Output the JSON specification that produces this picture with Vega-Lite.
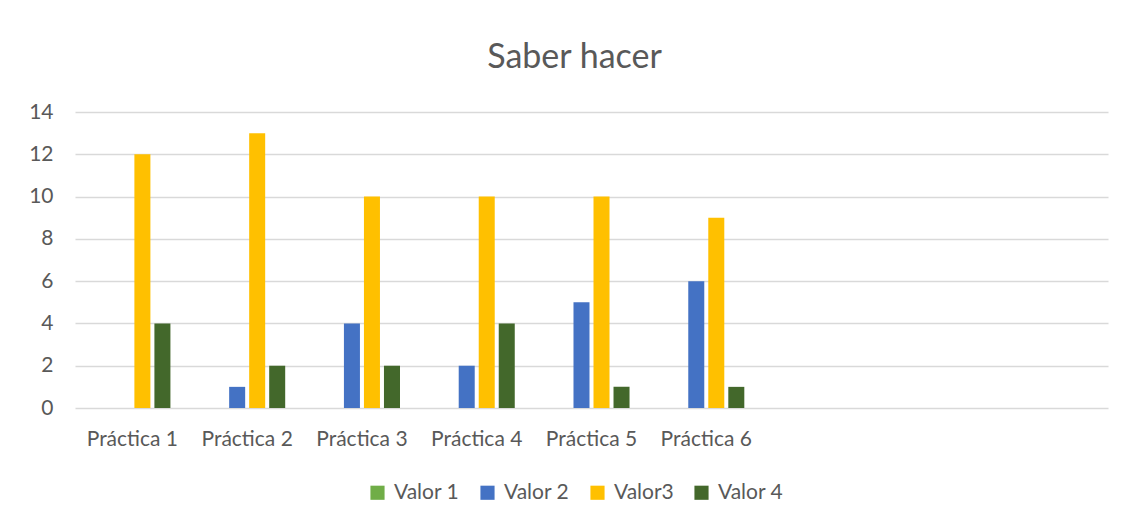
{
  "$schema": "https://vega.github.io/schema/vega-lite/v6.json",
  "width": 1033,
  "height": 296,
  "autosize": {"type": "none"},
  "padding": {"left": 75, "top": 112, "right": 15, "bottom": 114},
  "background": "white",
  "title": {
    "text": "Saber hacer",
    "fontSize": 34,
    "font": "Lato",
    "fontWeight": "normal",
    "color": "#595959",
    "anchor": "middle",
    "dx": -17,
    "offset": 26
  },
  "data": {
    "values": [
      {"cat": "Práctica 1", "serie": "Valor 1", "v": 0},
      {"cat": "Práctica 1", "serie": "Valor 2", "v": 0},
      {"cat": "Práctica 1", "serie": "Valor3", "v": 12},
      {"cat": "Práctica 1", "serie": "Valor 4", "v": 4},
      {"cat": "Práctica 2", "serie": "Valor 1", "v": 0},
      {"cat": "Práctica 2", "serie": "Valor 2", "v": 1},
      {"cat": "Práctica 2", "serie": "Valor3", "v": 13},
      {"cat": "Práctica 2", "serie": "Valor 4", "v": 2},
      {"cat": "Práctica 3", "serie": "Valor 1", "v": 0},
      {"cat": "Práctica 3", "serie": "Valor 2", "v": 4},
      {"cat": "Práctica 3", "serie": "Valor3", "v": 10},
      {"cat": "Práctica 3", "serie": "Valor 4", "v": 2},
      {"cat": "Práctica 4", "serie": "Valor 1", "v": 0},
      {"cat": "Práctica 4", "serie": "Valor 2", "v": 2},
      {"cat": "Práctica 4", "serie": "Valor3", "v": 10},
      {"cat": "Práctica 4", "serie": "Valor 4", "v": 4},
      {"cat": "Práctica 5", "serie": "Valor 1", "v": 0},
      {"cat": "Práctica 5", "serie": "Valor 2", "v": 5},
      {"cat": "Práctica 5", "serie": "Valor3", "v": 10},
      {"cat": "Práctica 5", "serie": "Valor 4", "v": 1},
      {"cat": "Práctica 6", "serie": "Valor 1", "v": 0},
      {"cat": "Práctica 6", "serie": "Valor 2", "v": 6},
      {"cat": "Práctica 6", "serie": "Valor3", "v": 9},
      {"cat": "Práctica 6", "serie": "Valor 4", "v": 1}
    ]
  },
  "mark": {"type": "bar"},
  "encoding": {
    "x": {
      "field": "cat",
      "type": "nominal",
      "title": null,
      "scale": {
        "domain": ["Práctica 1", "Práctica 2", "Práctica 3", "Práctica 4", "Práctica 5", "Práctica 6", "_7", "_8", "_9"],
        "paddingInner": 0,
        "paddingOuter": 0
      },
      "axis": {
        "labelAngle": 0,
        "labelExpr": "indexof(datum.label, 'Práctica') >= 0 ? datum.label : ''",
        "ticks": false,
        "domain": false,
        "labelPadding": 20,
        "labelFontSize": 21,
        "labelFont": "Lato",
        "labelColor": "#595959"
      }
    },
    "xOffset": {
      "field": "serie",
      "type": "nominal",
      "scale": {
        "domain": ["Valor 1", "Valor 2", "Valor3", "Valor 4"],
        "paddingInner": 0.2,
        "paddingOuter": 0.967
      }
    },
    "y": {
      "field": "v",
      "type": "quantitative",
      "title": null,
      "scale": {"domain": [0, 14]},
      "axis": {
        "values": [0, 2, 4, 6, 8, 10, 12, 14],
        "ticks": false,
        "domain": false,
        "labelPadding": 22,
        "labelFontSize": 21,
        "labelFont": "Lato",
        "labelColor": "#595959",
        "gridColor": "#d9d9d9",
        "gridWidth": 1.3
      }
    },
    "color": {
      "field": "serie",
      "type": "nominal",
      "scale": {
        "domain": ["Valor 1", "Valor 2", "Valor3", "Valor 4"],
        "range": ["#70AD47", "#4472C4", "#FFC000", "#43682B"]
      },
      "legend": {
        "title": null,
        "orient": "none",
        "direction": "horizontal",
        "legendX": 292,
        "legendY": 370,
        "symbolType": "square",
        "symbolSize": 200,
        "symbolStrokeWidth": 0,
        "symbolOpacity": 1,
        "labelFontSize": 21,
        "labelFont": "Lato",
        "labelColor": "#595959",
        "labelOffset": 6,
        "columnPadding": 17
      }
    }
  },
  "config": {
    "view": {"stroke": null}
  }
}
